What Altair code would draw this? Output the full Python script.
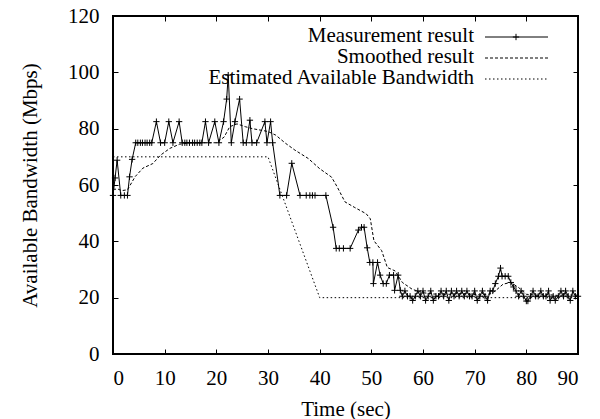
import altair as alt
import pandas as pd

# Measurement result
meas_t = [0.0, 0.4, 0.8, 1.5, 2.2, 2.8, 3.2, 3.7, 4.4, 4.8, 5.3, 5.7, 6.2, 6.6, 7.1, 7.5,
          8.4, 9.2, 10.0, 10.8, 11.6, 12.8, 13.4, 13.9, 14.3, 14.8, 15.4, 15.8, 16.3, 16.8, 17.2,
          17.9, 18.5, 19.7, 20.5, 21.4, 22.0, 22.3, 22.9, 23.6, 24.5, 25.2, 25.8, 26.5, 26.9, 27.8,
          29.4, 29.8, 30.5, 30.9, 32.3, 33.6, 34.6, 36.2, 37.4, 38.1, 38.6, 39.1, 41.2,
          42.6, 43.2, 43.8, 44.6, 45.9, 47.5, 48.1, 48.6, 49.2, 49.7, 50.3, 50.4, 51.2, 51.7,
          52.3, 52.9, 53.5, 54.3, 54.5, 55.2, 55.6,
          56.0, 56.5, 57.0, 57.5, 58.0, 58.5, 59.0, 59.5, 60.0, 60.5, 61.0, 61.5, 62.0, 62.5,
          63.0, 63.5, 64.0, 64.5, 65.0, 65.5, 66.0, 66.5, 67.0, 67.5, 68.0, 68.5, 69.0, 69.5,
          70.0, 70.5, 71.0, 71.5, 72.0, 72.5, 73.0, 73.5,
          74.0, 74.6, 75.0, 75.3, 75.9, 76.5, 77.0, 77.5, 78.0, 78.5, 79.0, 79.5, 80.0, 80.3,
          80.8, 81.3, 81.8, 82.3, 82.8, 83.3, 83.8, 84.3, 84.6, 85.2, 85.6, 86.2, 86.7, 87.2,
          87.6, 88.1, 88.5, 89.0, 89.5, 90.0]
meas_v = [56.3, 62.5, 68.8, 56.3, 56.3, 56.3, 62.9, 69.1, 75, 75, 75, 75, 75, 75, 75, 75,
          82.5, 75, 75, 82.5, 75, 82.5, 75, 75, 75, 75, 75, 75, 75, 75, 75,
          82.5, 75, 82.5, 75, 82.5, 90.5, 99, 75, 82.5, 90.5, 75, 75, 83, 75, 75,
          82.5, 75, 82.5, 75, 56.3, 56.3, 67.7, 56.3, 56.3, 56.3, 56.3, 56.3, 56.3,
          45, 37.5, 37.5, 37.5, 37.5, 44, 45, 45, 37.7, 32.5, 32.5, 25, 32.5, 28,
          25, 25, 28, 28, 22.6, 28, 22.6,
          20.5, 22.4, 20.5, 20.5, 19, 20.5, 22.4, 20.5, 22.4, 19, 20.5, 22.4, 19, 20.5,
          20.5, 22.4, 20.5, 22.4, 19, 22.4, 20.5, 22.4, 20.5, 22.4, 20.5, 22.4, 20.5, 20.5,
          22.4, 19, 20.5, 22.4, 20.5, 19, 22.4, 22.4,
          25, 27.6, 30.5, 27.6, 27.6, 27.6, 25.4, 23.8, 22.4, 20.5, 22.4, 20.5, 18.8, 18.8,
          20.5, 22.4, 20.5, 20.5, 22.4, 20.5, 20.5, 22.4, 19, 20.5, 19, 20.5, 22.4, 20.5,
          22.4, 20.5, 19, 22.4, 20.5, 20.5]

# Smoothed result
smooth_t = [0.0, 1.0, 1.7, 2.8, 4.3, 5.8, 7.7, 9.2, 11.0, 12.9, 15.0, 18.0, 20.0, 21.5, 22.6,
            24.0, 25.6, 27.0, 30.0, 31.5, 33.4, 35.2, 37.8, 40.0, 42.3, 43.4, 44.9, 46.8, 49.0,
            49.8, 50.5, 52.0, 53.1, 54.6, 56.0, 57.9, 59.8, 62.0, 65.0, 68.0, 71.0, 73.0, 74.0,
            75.5, 77.0, 78.5, 80.0, 82.0, 84.0, 86.0, 88.0, 90.0]
smooth_v = [58.5, 58.5, 58.0, 58.3, 63, 66, 67.6, 70.6, 73, 74.5, 75, 75, 75, 77, 80.7,
            81.7, 80.7, 80, 79, 77.7, 74.8, 72.4, 69.4, 65.8, 62.8, 59.3, 54, 52, 49.8,
            48, 40.2, 36.7, 30.7, 29.5, 25.4, 23, 21.8, 21.3, 21.2, 21.4, 21.0, 21.3, 22.4,
            24.8, 25.4, 23.6, 21.2, 20.9, 21.1, 20.8, 21.0, 20.9]

# Estimated available bandwidth
est_t = [0, 30, 40, 90]
est_v = [70, 70, 20, 20]

legend_labels = ["Measurement result", "Smoothed result", "Estimated Available Bandwidth"]

FONT = "Liberation Serif"
FS = 21
W, H = 465, 338

meas = pd.DataFrame({"t": meas_t, "v": meas_v})
smooth = pd.DataFrame({"t": smooth_t, "v": smooth_v})
est = pd.DataFrame({"t": est_t, "v": est_v})

xscale = alt.Scale(domain=[0, 90], nice=False, zero=False)
yscale = alt.Scale(domain=[0, 120], nice=False)

XV = list(range(0, 91, 10))
YV = list(range(0, 121, 20))

tick_common = dict(domain=False, grid=False, tickSize=5, tickColor="black", tickWidth=1,
                   offset=-5, labelFont=FONT, labelFontSize=FS, labelColor="black",
                   titleFont=FONT, titleFontSize=FS, titleColor="black", titleFontWeight="normal")

x_bottom = alt.Axis(values=XV, orient="bottom", labelPadding=13,
                    title="Time (sec)", titlePadding=10, **tick_common)
y_left = alt.Axis(values=YV, orient="left", labelPadding=14,
                  title="Available Bandwidth (Mbps)", titlePadding=27, **tick_common)
x_top = alt.Axis(values=XV, orient="top", labels=False, title=None, **tick_common)
y_right = alt.Axis(values=YV, orient="right", labels=False, title=None, **tick_common)

# plot frame
frame = alt.Chart(pd.DataFrame({"k": [0]})).mark_rect(
    fill="white", fillOpacity=0, stroke="black", strokeWidth=2, strokeOpacity=1).encode(
    x=alt.value(0), x2=alt.value(W), y=alt.value(0), y2=alt.value(H))

est_line = alt.Chart(est).mark_line(color="black", strokeWidth=1, strokeDash=[1.5, 2.5]).encode(
    x=alt.X("t:Q", scale=xscale, axis=x_top),
    y=alt.Y("v:Q", scale=yscale, axis=y_right),
)
smooth_line = alt.Chart(smooth).mark_line(color="black", strokeWidth=1, strokeDash=[3, 2]).encode(
    x=alt.X("t:Q", scale=xscale, axis=None),
    y=alt.Y("v:Q", scale=yscale, axis=None),
)
plus = "M-1,0L1,0M0,-1L0,1"
meas_line = alt.Chart(meas).mark_line(color="black", strokeWidth=1).encode(
    x=alt.X("t:Q", scale=xscale, axis=x_bottom),
    y=alt.Y("v:Q", scale=yscale, axis=y_left),
)
meas_pts = alt.Chart(meas).mark_point(shape=plus, size=40, filled=False, color="black",
                                      strokeWidth=1, opacity=1).encode(
    x=alt.X("t:Q", scale=xscale, axis=None),
    y=alt.Y("v:Q", scale=yscale, axis=None),
)

# Legend (gnuplot style: right-aligned text, line sample to the right)
text_y = [26, 47, 68]
line_y = [21, 42, 63]
sample_styles = [None, [3, 2], [1.5, 2.5]]
leg_layers = []
for i, lab in enumerate(legend_labels):
    d = pd.DataFrame({"label": [lab]})
    leg_layers.append(alt.Chart(d).mark_text(align="right", baseline="alphabetic", font=FONT,
                                             fontSize=FS, color="black").encode(
        text="label:N", x=alt.value(361), y=alt.value(text_y[i])))
    kw = dict(color="black", strokeWidth=1)
    if sample_styles[i] is not None:
        kw["strokeDash"] = sample_styles[i]
    leg_layers.append(alt.Chart(d).mark_rule(**kw).encode(
        x=alt.value(372), x2=alt.value(435), y=alt.value(line_y[i])))
leg_layers.append(alt.Chart(pd.DataFrame({"label": [legend_labels[0]]})).mark_point(
    shape=plus, size=40, filled=False, color="black", strokeWidth=1, opacity=1).encode(
    x=alt.value(403), y=alt.value(line_y[0])))

chart = alt.layer(frame, est_line, smooth_line, meas_line, meas_pts, *leg_layers).resolve_axis(
    x="independent", y="independent"
).properties(
    width=W, height=H,
    autosize=alt.AutoSizeParams(type="none"),
    padding={"left": 105, "top": 8, "right": 14, "bottom": 65},
).configure_view(stroke="black", strokeWidth=1.5).configure(background="white")

chart.save("out.html", embed_options={"renderer": "svg", "actions": False})
